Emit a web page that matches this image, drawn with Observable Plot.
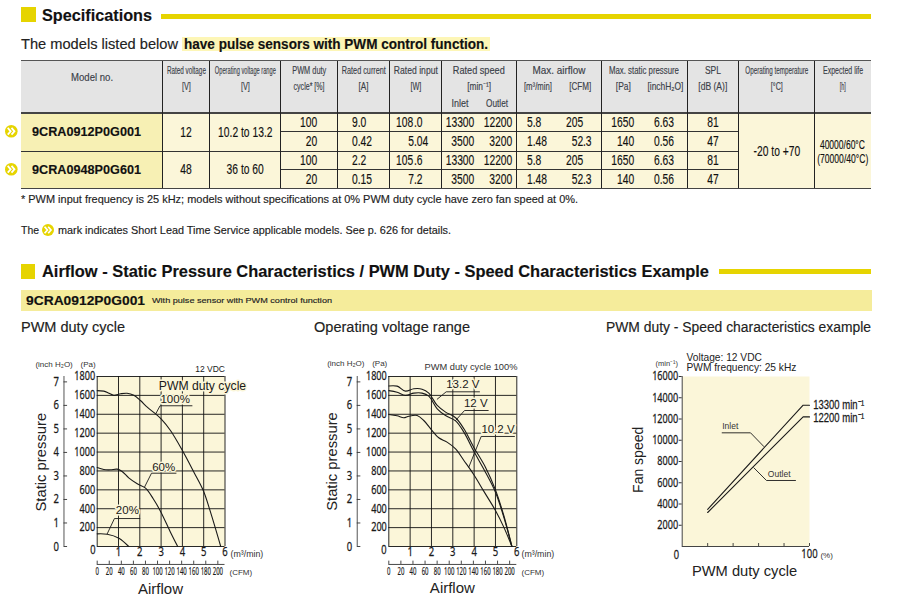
<!DOCTYPE html>
<html><head><meta charset="utf-8">
<script src="https://cdn.jsdelivr.net/npm/d3@7"></script>
<script src="https://cdn.jsdelivr.net/npm/@observablehq/plot@0.6"></script>
<style>
html,body{margin:0;padding:0;background:#fff;width:911px;height:602px;overflow:hidden;font-family:"Liberation Sans",Arial,sans-serif;color:#111}
#page{position:absolute;left:0;top:0;width:911px;height:602px;overflow:hidden}
.a{position:absolute;white-space:nowrap;display:flex;align-items:center}
.a span{display:inline-block;white-space:nowrap;-webkit-text-stroke:.15px currentColor}
.box{position:absolute}
.chart{position:absolute;top:340px}
.chart svg{overflow:visible;display:block}
.sq text{stroke:#1a1a1a;stroke-width:.25px}
.cfm text{stroke:#1a1a1a;stroke-width:.2px}
</style></head><body><div id="page"></div>
<script>
// ---------- data: table ----------
const headTop = ["Rated voltage","Operating voltage range","PWM duty","Rated current","Rated input","Rated speed","Max. airflow","Max. static pressure","SPL","Operating temperature","Expected life"];
const headUnit = ["[V]","[V]","cycle* [%]","[A]","[W]","[min⁻¹]","[m³/min]","[CFM]","[Pa]","[inchH₂O]","[dB (A)]","[°C]","[h]"];
const speedSub = ["Inlet","Outlet"];
const modelNos = ["9CRA0912P0G001","9CRA0948P0G601"];
const ratedV = ["12","48"];
const voltRange = ["10.2 to 13.2","36 to 60"];
const pwmDuty = ["100","20","100","20"];
const current = ["9.0","0.42","2.2","0.15"];
const inputW = ["108.0","5.04","105.6","7.2"];
const inlet = ["13300","3500","13300","3500"];
const outlet = ["12200","3200","12200","3200"];
const flowM3 = ["5.8","1.48","5.8","1.48"];
const flowCFM = ["205","52.3","205","52.3"];
const pressPa = ["1650","140","1650","140"];
const pressIn = ["6.63","0.56","6.63","0.56"];
const spl = ["81","47","81","47"];
const tempRange = "-20 to +70";
const life = ["40000/60°C","(70000/40°C)"];

// ---------- data: charts ----------
const duty100 = [[0,1650],[.31,1645],[.55,1623],[.78,1600],[1.1,1617],[1.4,1623],[1.72,1602],[2.03,1546],[2.35,1475],[2.7,1412],[3,1352],[3.44,1228],[4,1016],[4.54,787],[4.98,593],[5.32,364],[5.8,0]];
const duty60 = [[0,836],[.31,815],[.62,812],[.94,819],[1.17,794],[1.48,727],[1.88,664],[2.27,618],[2.63,505],[2.97,374],[3.44,152],[3.78,0]];
const duty20 = [[0,134],[.47,130],[1.02,88],[1.48,0]];
const lead100 = [[4.45,1490],[2.95,1490],[2.75,1405]];
const lead60 = [[3.7,776],[2.55,776],[2.22,628]];
const lead20 = [[2,296],[.81,296],[.47,134]];
const v132 = [[0,1700],[.39,1698],[.78,1645],[1.17,1670],[1.56,1666],[1.875,1624],[2.27,1493],[2.66,1423],[3.13,1363],[3.52,1246],[3.98,1052],[4.53,840],[5,600],[5.39,328],[5.77,0]];
const v120 = [[0,1650],[.39,1634],[.78,1600],[1.17,1624],[1.56,1624],[1.875,1592],[2.27,1458],[2.66,1387],[3.13,1331],[3.52,1211],[3.98,1010],[4.53,787],[5,575],[5.39,311],[5.77,0]];
const v102 = [[0,1398],[.39,1384],[.7,1363],[.94,1380],[1.33,1387],[1.64,1334],[2.03,1228],[2.34,1151],[2.73,1105],[3.13,1034],[3.52,911],[3.98,762],[4.45,586],[5,381],[5.39,205],[5.77,0]];
const lead132 = [[4.25,1638],[2.69,1638],[2.27,1560]];
const lead120 = [[4.66,1440],[3.55,1440],[3.13,1334]];
const lead102 = [[5.89,1165],[4.33,1165],[3.75,840]];
const inletLine = [[20,3500],[95,13300],[100,13300]];
const outletLine = [[20,3200],[95,12200],[100,12200]];
const leadInlet = [[31.4,10700],[53.7,10700],[64.1,9412]];
const leadOutlet = [[89,6212],[66.2,6212],[56.3,7404]];
const paTicks = [200,400,600,800,1000,1200,1400,1600,1800];
const inchTicks = [0,1,2,3,4,5,6,7];
const m3Ticks = [1,2,3,4,5,6];
const cfmTicks = [0,20,40,60,80,100,120,140,160,180,200];
const speedTicks = [2000,4000,6000,8000,10000,12000,14000,16000];
const dutyTicks = [20,40,60,80,100];

// ---------- page furniture ----------
const NARROW = '"Liberation Sans",Arial,sans-serif';
const SANS = '"Liberation Sans",Arial,sans-serif';
const SQUEEZE = 0.76, CELL_SQUEEZE = 0.71;
const YELLOW = "#e6d400", CREAM = "#fbf6d9", MODEL = "#f7f0b4", HEAD = "#e4e4e4";
const page = document.getElementById("page");
function box(x0,y0,x1,y1,bg){const d=document.createElement("div");d.className="box";
  d.style.cssText=`left:${x0}px;top:${y0}px;width:${x1-x0}px;height:${y1-y0}px;background:${bg}`;page.appendChild(d);return d;}
function put(text,x0,x1,yc,o={}){
  const d=document.createElement("div");d.className="a";
  const al=o.align||"center";
  d.style.cssText=`left:${x0}px;top:${yc-12}px;width:${x1-x0}px;height:24px;justify-content:${al==="center"?"center":al==="left"?"flex-start":"flex-end"}`;
  const s=document.createElement("span");s.textContent=text;
  s.style.cssText=`font-family:${o.font||NARROW};font-size:${o.size||14.5}px;font-weight:${o.weight||400};color:${o.color||"#111"};flex:none`;
  d.appendChild(s);page.appendChild(d);
  s.style.transformOrigin=al==="center"?"center":al==="left"?"left":"right";
  if(o.fit){const w=s.getBoundingClientRect().width;s.style.transform=`scaleX(${o.fit/w})`;}
  else if(!o.font){s.style.transform=`scaleX(${CELL_SQUEEZE})`;}
  return d;
}
function badge(cx,cy,r){
  const d=document.createElement("div");d.className="box";
  d.style.cssText=`left:${cx-r}px;top:${cy-r}px;width:${2*r}px;height:${2*r}px`;
  d.innerHTML=`<svg width="${2*r}" height="${2*r}" viewBox="0 0 12 12" style="display:block"><circle cx="6" cy="6" r="6" fill="${YELLOW}"/><path d="M2.6 2.8 5.4 6 2.6 9.2M6.2 2.8 9 6 6.2 9.2" fill="none" stroke="#fff" stroke-width="1.7"/></svg>`;
  page.appendChild(d);
}
// headings
box(21,7,36,22,YELLOW);
put("Specifications",42,300,15.7,{font:SANS,size:17,weight:700,align:"left",fit:110,color:"#111"});
box(161,14,871,19,YELLOW);
put("The models listed below",21,180,44,{font:SANS,size:14,align:"left",fit:157,color:"#222"});
box(182,37,490,51,"#fdf6b6");
put("have pulse sensors with PWM control function.",184,490,44,{font:SANS,size:14,weight:700,align:"left",fit:304});

// table
const X=[21,162.5,209.7,280.7,337.5,389.5,441.5,516.5,601.7,687,738.7,814.3,871];
const Y=[60.7,113,131.7,151,169.5,188.5];
box(X[0],Y[0],X[12],Y[1],HEAD);
box(X[1],Y[1],X[12],Y[5],CREAM);
const modelBg=box(X[0],Y[1],X[1],Y[5],MODEL);
const DARK="#333";
function hl(x0,x1,y,c=DARK,t=1){box(x0,y-t/2,x1,y+t/2,c);}
function vl(x,y0,y1,c=DARK,t=1){box(x-t/2,y0,x+t/2,y1,c);}
hl(X[0],X[12],Y[0],"#555",1.5);hl(X[0],X[12],Y[1],"#444",1.5);hl(X[0],X[10],Y[3]);hl(X[0],X[12],Y[5],"#444",1.5);
hl(X[3],X[10],Y[2]);hl(X[3],X[10],Y[4]);
for(let i=1;i<12;i++)vl(X[i],Y[0],Y[5],"#222",1);
const H="#3a4048";
const hc=(t,a,b,y,fit)=>put(t,a,b,y,{size:10.5,color:H,fit});
hc("Model no.",X[0],X[1],77,42);
[[1,39],[2,61],[3,34],[4,44],[5,44]].forEach(([i,w],k)=>hc(headTop[k],X[i],X[i+1],69.5,w));
hc(headTop[5],X[6],X[7],69.5,52);hc(headTop[6],X[7],X[8],69.5,53);hc(headTop[7],X[8],X[9],69.5,70);hc(headTop[8],X[9],X[10],69.5,16);
hc(headTop[9],X[10],X[11],69.5,63);hc(headTop[10],X[11],X[12],69.5,40);
hc(headUnit[0],X[1],X[2],85.5,9);hc(headUnit[1],X[2],X[3],85.5,9);hc(headUnit[2],X[3],X[4],85.5,31);hc(headUnit[3],X[4],X[5],85.5,10);hc(headUnit[4],X[5],X[6],85.5,11);
hc(headUnit[5],X[6],X[7],85.5,24);
hc(headUnit[6],517,559,85.5,28);hc(headUnit[7],559,601,85.5,22);hc(headUnit[8],602,644,85.5,15);hc(headUnit[9],644,687,85.5,36);
hc(headUnit[10],X[9],X[10],85.5,29);hc(headUnit[11],X[10],X[11],85.5,12);hc(headUnit[12],X[11],X[12],85.5,6);
hc(speedSub[0],442,478,102.5,17);hc(speedSub[1],478,517,102.5,22);

const rowC=[122.3,141.3,160.2,179];
const twoC=[(Y[1]+Y[3])/2-.5,(Y[3]+Y[5])/2-.5];
modelNos.forEach((m,i)=>{
  put(m,32,162,twoC[i],{font:SANS,size:13.5,weight:700,fit:109,align:"left",color:"#111"});
  put(ratedV[i],X[1],X[2],twoC[i]);
  put(voltRange[i],X[2],X[3],twoC[i]);
  badge(11.5,twoC[i],6.3);
});
function dec(v,anchor,y){const p=v.split(".");
  put(p[0],anchor-40,anchor,y,{align:"right"});
  if(p[1])put("."+p[1],anchor,anchor+30,y,{align:"left"});}
rowC.forEach((y,i)=>{
  put(pwmDuty[i],280,317,y,{align:"right"});
  put(current[i],352,389,y,{align:"left"});
  dec(inputW[i],413.7,y);
  put(inlet[i],442,474.5,y,{align:"right"});
  put(outlet[i],478,512,y,{align:"right"});
  put(flowM3[i],527,559,y,{align:"left"});
  dec(flowCFM[i],583,y);
  put(pressPa[i],602,634,y,{align:"right"});
  put(pressIn[i],654,687,y,{align:"left"});
  put(spl[i],X[9],X[10],y);
});
put(tempRange,X[10],X[11],151);
put(life[0],X[11],X[12],144,{size:13,fit:45});
put(life[1],X[11],X[12],158.5,{size:13,fit:51});

// notes
put("* PWM input frequency is 25 kHz; models without specifications at 0% PWM duty cycle have zero fan speed at 0%.",21,600,198.5,{font:SANS,size:11,align:"left",fit:557,color:"#222"});
put("The",21,50,230,{font:SANS,size:11,align:"left",fit:18,color:"#222"});
badge(48,230,6);
put("mark indicates Short Lead Time Service applicable models. See p. 626 for details.",58,460,230,{font:SANS,size:11,align:"left",fit:393,color:"#222"});

// second heading
box(21,264,35,279,YELLOW);
put("Airflow - Static Pressure Characteristics / PWM Duty - Speed Characteristics Example",42,715,271.7,{font:SANS,size:17,weight:700,align:"left",fit:667});
box(719,269,871,274,YELLOW);
box(21,290,872,311,"#f5ec9b");
put("9CRA0912P0G001",26,150,300.5,{font:SANS,size:13.5,weight:700,align:"left",fit:119});
put("With pulse sensor with PWM control function",152,340,300.5,{size:8,align:"left",fit:180,color:"#222"});
put("PWM duty cycle",21,200,327,{font:SANS,size:14,align:"left",fit:104,color:"#222"});
put("Operating voltage range",314,500,327,{font:SANS,size:14,align:"left",fit:156,color:"#222"});
put("PWM duty - Speed characteristics example",606,880,327,{font:SANS,size:14,align:"left",fit:265,color:"#222"});

// ---------- charts ----------
const INK="#1a1a1a";
const line=(d,w=1.1)=>Plot.line(d,{x:"0",y:"1",stroke:INK,strokeWidth:w,curve:"catmull-rom"});
const lead=d=>Plot.line(d,{x:"0",y:"1",stroke:INK,strokeWidth:.9});
const label=(t,x,y,size,o={})=>Plot.text([t],{x:()=>x,y:()=>y,text:d=>d,fontSize:size,fill:o.fill||INK,textAnchor:o.anchor||"start",rotate:o.rotate||0,fontFamily:SANS,fontWeight:o.weight||400,className:o.className,stroke:o.halo?CREAM:undefined,strokeWidth:o.halo?3:undefined});
const str=d=>String(d);

function pressureChart(o){
  const inchX=o.inchX;
  const marks=[
    Plot.frame({fill:CREAM,stroke:"none"}),
    Plot.gridX(m3Ticks.concat([0]),{stroke:"#111",strokeOpacity:1,strokeWidth:.9}),
    Plot.gridY(paTicks.concat([0]),{stroke:"#111",strokeOpacity:1,strokeWidth:.9}),
    ...o.notes,
    ...o.curves.map(c=>line(c)),
    ...o.leads.map(lead),
    Plot.axisY({ticks:paTicks,tickSize:0,tickPadding:2,fontSize:12,fill:INK,label:null,tickFormat:str,className:"sq"}),
    Plot.axisX({ticks:m3Ticks,tickSize:0,tickPadding:1,fontSize:12.5,fill:INK,label:null,tickFormat:str,className:"sq"}),
    // inch H2O axis
    Plot.ruleX([inchX],{y1:0,y2:1800,stroke:"#555",strokeWidth:1}),
    Plot.ruleY(inchTicks,{y:d=>d*249,x1:inchX,x2:inchX+.17,stroke:"#333",strokeWidth:.9}),
    Plot.text(inchTicks,{x:()=>inchX,y:d=>d*249,text:str,dx:-5,textAnchor:"end",fontSize:12.5,fill:INK,className:"sq"}),
    // CFM axis
    Plot.ruleY([-190],{x1:0,x2:6,stroke:"#333",strokeWidth:.9}),
    Plot.ruleX(cfmTicks,{x:d=>d*.02832,y1:-190,y2:-155,stroke:"#333",strokeWidth:.9}),
    Plot.text(cfmTicks,{x:d=>d*.02832,y:()=>-270,text:str,fontSize:10,fill:INK,className:"cfm"}),
    ...o.labels
  ];
  return Plot.plot({width:300,height:262,marginLeft:o.ml,marginRight:o.mr,marginTop:36,marginBottom:56,
    style:{background:"transparent",overflow:"visible"},
    x:{domain:[0,6]},y:{domain:[0,1800]},marks});
}
const chart1=pressureChart({ml:96.7,mr:75.5,inchX:-1.56,curves:[duty100,duty60,duty20],leads:[lead100,lead60,lead20],
 notes:[label("PWM duty cycle",2.89,1700,12.2,{halo:true}),label("100%",2.97,1556,11.5,{halo:true}),label("60%",2.58,835,11.5,{halo:true}),label("20%",.875,380,11.5,{halo:true})],
 labels:[
  label("(inch H₂O)",-2.9,1927,8,{fill:"#333"}),label("(Pa)",-.78,1927,8,{fill:"#333"}),
  label("Static pressure",-2.61,893,14.8,{rotate:-90,anchor:"middle",fill:"#222"}),
  label("Airflow",2.97,-450,15,{anchor:"middle",fill:"#222"}),
  label("(CFM)",6.21,-275,8,{fill:"#333"}),label("(m³/min)",6.26,-85,8.8,{fill:"#333"}),
  label("0",-.2,-42,12.5,{anchor:"middle",className:"sq"}),
  label("12 VDC",6,1878,8.5,{anchor:"end"})
]});
const chart2=pressureChart({ml:88.3,mr:83.7,inchX:-1.48,curves:[v132,v120,v102],leads:[lead132,lead120,lead102],
 notes:[label("13.2 V",2.69,1715,11.5,{halo:true}),label("12 V",3.52,1517,11.5,{halo:true}),label("10.2 V",4.34,1245,11.5,{halo:true})],
 labels:[
  label("(inch H₂O)",-2.89,1934,8,{fill:"#333"}),label("(Pa)",-.78,1934,8,{fill:"#333"}),
  label("Static pressure",-2.66,900,14.8,{rotate:-90,anchor:"middle",fill:"#222"}),
  label("Airflow",2.98,-445,15,{anchor:"middle",fill:"#222"}),
  label("(CFM)",6.22,-275,8,{fill:"#333"}),label("(m³/min)",6.22,-85,8.8,{fill:"#333"}),
  label("0",-.23,-42,12.5,{anchor:"middle",className:"sq"}),
  label("PWM duty cycle 100%",6.03,1899,9.3,{anchor:"end",fill:"#333"})
]});
const chart3=Plot.plot({width:311,height:262,marginLeft:81.7,marginRight:102,marginTop:36,marginBottom:56,
  style:{background:"transparent",overflow:"visible"},
  x:{domain:[0,100]},y:{domain:[0,16000]},
  marks:[
    Plot.frame({fill:CREAM,stroke:"none"}),
    Plot.ruleX([0],{stroke:"#444",strokeWidth:1}),
    Plot.ruleY([0],{stroke:"#444",strokeWidth:1}),
    Plot.ruleX(dutyTicks,{y1:0,y2:280,stroke:"#333",strokeWidth:.9}),
    Plot.axisY({ticks:speedTicks,tickSize:3,tickPadding:1,fontSize:12,fill:INK,stroke:"#333",label:null,tickFormat:str,className:"sq"}),
    Plot.axisX({ticks:[100],tickSize:0,tickPadding:3,fontSize:12.5,fill:INK,label:null,tickFormat:str,className:"sq"}),
    Plot.line(inletLine,{x:"0",y:"1",stroke:INK,strokeWidth:1.1}),
    Plot.line(outletLine,{x:"0",y:"1",stroke:INK,strokeWidth:1.1}),
    lead(leadInlet),lead(leadOutlet),
    label("(min⁻¹)",-21,17190,7.5,{fill:"#333"}),
    label("Voltage: 12 VDC",3.4,17800,10.2,{fill:"#222"}),
    label("PWM frequency: 25 kHz",3.4,16780,10.2,{fill:"#222"}),
    label("0",-4.5,-784,12.5,{anchor:"middle",className:"sq"}),
    label("(%)",108.6,-850,8,{fill:"#333"}),
    label("PWM duty cycle",49,-2320,14.7,{anchor:"middle",fill:"#222"}),
    label("Fan speed",-34.6,8156,14,{anchor:"middle",rotate:-90,fill:"#222"}),
    label("Inlet",31.4,11290,8.5,{fill:"#333"}),
    label("Outlet",67.3,6776,8.5,{fill:"#333"}),
    label("13300 min⁻¹",102.9,13360,12.5,{className:"sq"}),
    label("12200 min⁻¹",102.9,12140,12.5,{className:"sq"})
  ]});
[[chart1,0],[chart2,300],[chart3,600]].forEach(([svg,left])=>{
  const w=document.createElement("div");w.className="chart";w.style.left=left+"px";w.appendChild(svg);page.appendChild(w);
  const squeeze=(sel,k)=>svg.querySelectorAll(sel+" text").forEach(t=>{
    const tr=t.getAttribute("transform");
    if(tr)t.setAttribute("transform",tr+` scale(${k},1)`);
    else t.setAttribute("transform",`translate(${t.getAttribute("x")||0},${t.getAttribute("y")||0}) scale(${k},1)`),t.removeAttribute("x"),t.removeAttribute("y");
  });
  squeeze(".sq",SQUEEZE);squeeze(".cfm",.6);
});
</script></body></html>
